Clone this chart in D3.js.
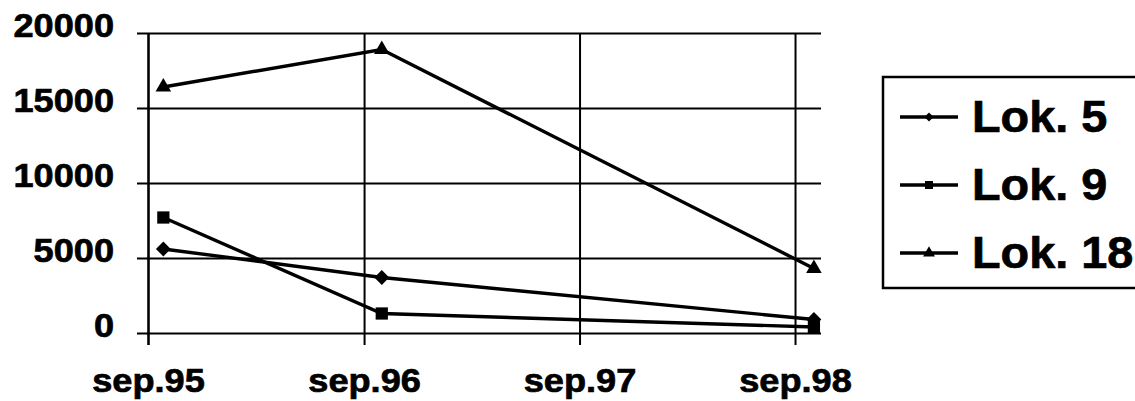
<!DOCTYPE html>
<html>
<head>
<meta charset="utf-8">
<script src="https://cdn.jsdelivr.net/npm/d3@7"></script>
<style>
  html, body { margin: 0; padding: 0; background: #fff; }
  svg { display: block; }
  text { font-family: "Liberation Sans", Arial, sans-serif; font-weight: bold; fill: #000; stroke: #000; stroke-width: 0.7px; }
</style>
</head>
<body>
<svg id="chart" width="1135" height="401"></svg>
<script>
// ---- data ----
const sampleDates = ["1995-09-27", "1996-10-01", "1998-10-03"];
const lok5  = [5600, 3700, 900];
const lok9  = [7700, 1300, 400];
const lok18 = [16400, 18900, 4300];
const seriesNames = ["Lok. 5", "Lok. 9", "Lok. 18"];
const yTicks = [0, 5000, 10000, 15000, 20000];
const xTickDates = ["1995-09-01", "1996-09-01", "1997-09-01", "1998-09-01"];
const xTickLabels = ["sep.95", "sep.96", "sep.97", "sep.98"];

const parse = d3.timeParse("%Y-%m-%d");
const svg = d3.select("#chart");

const plotLeft = 148, plotRight = 821, plotTop = 33, plotBottom = 333;

const x = d3.scaleTime()
  .domain([parse("1995-09-01"), parse("1998-10-15")])
  .range([plotLeft, plotRight]);
const y = d3.scaleLinear().domain([0, 20000]).range([plotBottom, plotTop]);

const sx = 1.08;

// horizontal gridlines + y labels
const yAxis = d3.axisLeft(y).tickValues(yTicks).tickSize(-(plotRight - 137)).tickPadding(0)
  .tickFormat(d3.format("d"));
const gy = svg.append("g").attr("transform", "translate(137,0)").call(yAxis);
gy.select(".domain").remove();
gy.selectAll(".tick line").attr("stroke", "#000").attr("stroke-width", 2);
gy.selectAll(".tick text")
  .attr("x", -23 / sx).attr("y", 3.5).attr("dy", null)
  .attr("transform", `scale(${sx},1)`)
  .style("font-size", "33.5px");

// vertical gridlines + x labels
const xTickVals = xTickDates.map(parse);
const xAxis = d3.axisBottom(x).tickValues(xTickVals).tickSize(345 - plotTop)
  .tickFormat((d, i) => xTickLabels[i]);
const gx = svg.append("g").attr("transform", `translate(0,${plotTop})`).call(xAxis);
gx.select(".domain").remove();
gx.selectAll(".tick line").attr("stroke", "#000").attr("stroke-width", 2);
gx.selectAll(".tick").filter((d, i) => i === 0).select("line").attr("stroke-width", 2.6);
gx.selectAll(".tick text")
  .attr("y", 392 - plotTop).attr("dy", null)
  .attr("transform", `scale(${sx},1)`)
  .style("font-size", "33.5px");

// series
const series = [lok5, lok9, lok18].map((vals, i) => ({
  name: seriesNames[i],
  points: vals.map((v, j) => ({ date: parse(sampleDates[j]), value: v }))
}));

const line = d3.line().x(d => x(d.date)).y(d => y(d.value));

const markerTypes = [
  { type: d3.symbolSquare, size: 110, rotate: 45 },  // diamond
  { type: d3.symbolSquare, size: 150, rotate: 0 },   // square
  { type: d3.symbolTriangle, size: 105, rotate: 0 }  // triangle
];
const legendMarkers = [
  { type: d3.symbolSquare, size: 40, rotate: 45 },
  { type: d3.symbolSquare, size: 64, rotate: 0 },
  { type: d3.symbolTriangle, size: 60, rotate: 0 }
];

series.forEach((s, i) => {
  svg.append("path")
    .attr("d", line(s.points))
    .attr("fill", "none").attr("stroke", "#000").attr("stroke-width", 3.4);
  svg.append("g").selectAll("path").data(s.points).join("path")
    .attr("d", d3.symbol().type(markerTypes[i].type).size(markerTypes[i].size))
    .attr("transform", d => `translate(${x(d.date)},${y(d.value)}) rotate(${markerTypes[i].rotate})`)
    .attr("fill", "#000");
});

// legend
const legend = svg.append("g");
legend.append("rect")
  .attr("x", 883).attr("y", 77).attr("width", 260).attr("height", 211)
  .attr("fill", "none").attr("stroke", "#000").attr("stroke-width", 2.5);
const rowY = [117, 185, 253];
series.forEach((s, i) => {
  const g = legend.append("g").attr("transform", `translate(0,${rowY[i]})`);
  g.append("line").attr("x1", 900).attr("x2", 958).attr("y1", 0).attr("y2", 0)
    .attr("stroke", "#000").attr("stroke-width", 3.4);
  g.append("path")
    .attr("d", d3.symbol().type(legendMarkers[i].type).size(legendMarkers[i].size))
    .attr("transform", `translate(929,0) rotate(${legendMarkers[i].rotate})`)
    .attr("fill", "#000");
  g.append("text").attr("x", 972 / 1.04).attr("y", 14.5)
    .attr("transform", "scale(1.04,1)")
    .style("font-size", "45px").text(s.name);
});
</script>
</body>
</html>
